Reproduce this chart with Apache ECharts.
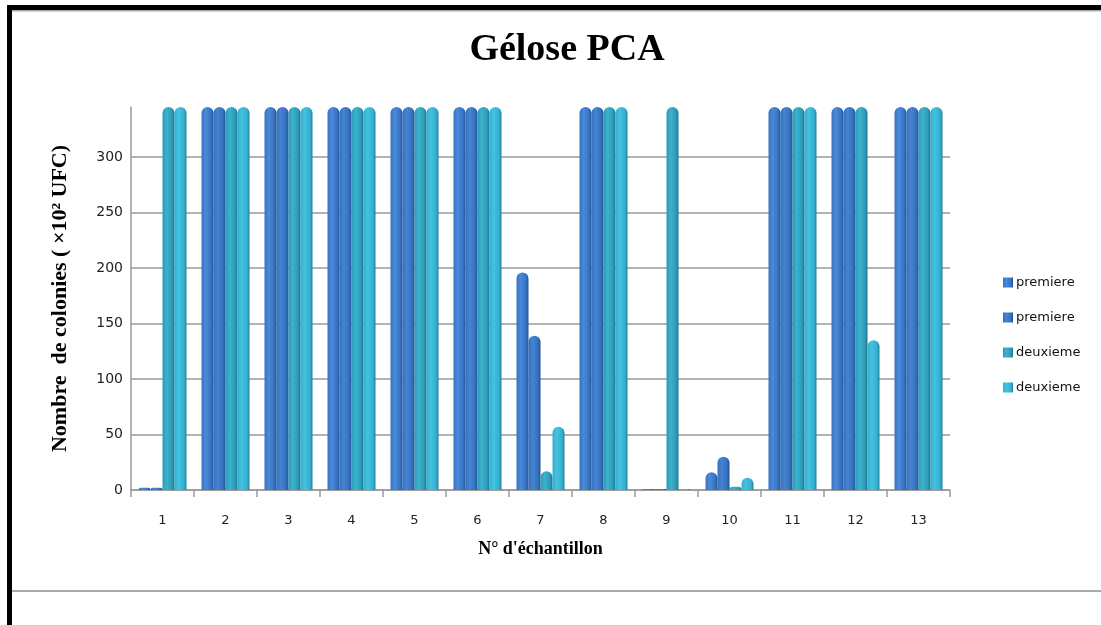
<!DOCTYPE html>
<html>
<head>
<meta charset="utf-8">
<title>Gélose PCA</title>
<script src="https://cdn.jsdelivr.net/npm/echarts@6/dist/echarts.min.js"></script>
<style>
  html, body { margin: 0; padding: 0; background: #fff; }
  #chart { width: 1101px; height: 625px; }
</style>
</head>
<body>
<div id="chart"></div>
<script>
// Sample numbers on the x axis
const categories = ['1', '2', '3', '4', '5', '6', '7', '8', '9', '10', '11', '12', '13'];

// Colony counts (×10² UFC); 345 marks plates that were too numerous to count
const premiereA = [2, 345, 345, 345, 345, 345, 196, 345, 1, 16, 345, 345, 345];
const premiereB = [2, 345, 345, 345, 345, 345, 139, 345, 1, 30, 345, 345, 345];
const deuxiemeA = [345, 345, 345, 345, 345, 345, 17, 345, 345, 3, 345, 345, 345];
const deuxiemeB = [345, 345, 345, 345, 345, 345, 57, 345, 1, 11, 345, 135, 345];

const seriesLabels = ['premiere', 'premiere', 'deuxieme', 'deuxieme'];
const yTicks = [0, 50, 100, 150, 200, 250, 300];

// Legend entries need unique keys even though two pairs share a label
const seriesKeys = seriesLabels.map((n, i) => n + '#' + i);
const labelOf = key => key.split('#')[0];

// Cylinder-like horizontal shading for each bar
function shade(light, mid, dark) {
  return new echarts.graphic.LinearGradient(0, 0, 1, 0, [
    { offset: 0, color: mid },
    { offset: 0.35, color: light },
    { offset: 0.8, color: mid },
    { offset: 1, color: dark }
  ]);
}
const fills = [
  shade('#4a8ad8', '#3672c2', '#24508e'),
  shade('#4684d2', '#3370be', '#234f8c'),
  shade('#3cb2cc', '#2c9ab6', '#1f7389'),
  shade('#45c2e0', '#33afcf', '#237f98')
];

const chart = echarts.init(document.getElementById('chart'), null, { renderer: 'canvas' });

const dataSets = [premiereA, premiereB, deuxiemeA, deuxiemeB];
const series = dataSets.map((d, i) => ({
  name: seriesKeys[i],
  type: 'bar',
  data: d,
  barWidth: 12,
  barGap: '0%',
  itemStyle: { color: fills[i], borderRadius: [6, 6, 0, 0] }
}));

const yMax = 345;
// one grid line per labelled tick; the top edge stays clear
const gridColors = yTicks.map(() => '#9a9a9a').concat(['rgba(0,0,0,0)']);

chart.setOption({
  animation: false,
  backgroundColor: '#ffffff',
  title: {
    text: 'Gélose PCA',
    left: 562,
    top: 26,
    textAlign: 'center',
    textStyle: { fontFamily: 'Liberation Serif', fontWeight: 'bold', fontSize: 38, color: '#000' }
  },
  legend: {
    orient: 'vertical',
    left: 998,
    top: 271,
    itemGap: 22,
    itemWidth: 10,
    itemHeight: 10,
    icon: 'rect',
    data: seriesKeys,
    formatter: labelOf,
    textStyle: { fontFamily: 'DejaVu Sans', fontSize: 13, color: '#111', padding: [0, 0, 0, -2] }
  },
  grid: { left: 131, right: 151, top: 107, bottom: 135, containLabel: false },
  xAxis: {
    type: 'category',
    data: categories,
    name: 'N° d\'échantillon',
    nameLocation: 'middle',
    nameGap: 50,
    nameTextStyle: { fontFamily: 'Liberation Serif', fontWeight: 'bold', fontSize: 18, color: '#000' },
    axisLine: { lineStyle: { color: '#9a9a9a', width: 1.5 } },
    axisTick: { show: true, length: 7, lineStyle: { color: '#9a9a9a', width: 1.5 } },
    axisLabel: { fontFamily: 'DejaVu Sans', fontSize: 13, color: '#222', margin: 24 }
  },
  yAxis: {
    type: 'value',
    min: 0,
    max: yMax,
    interval: 50,
    name: 'Nombre  de colonies ( ×10² UFC)',
    nameLocation: 'middle',
    nameGap: 60,
    nameTextStyle: { fontFamily: 'Liberation Serif', fontWeight: 'bold', fontSize: 22, color: '#000' },
    axisLine: { show: true, lineStyle: { color: '#9a9a9a', width: 1.5 } },
    axisTick: { show: false },
    axisLabel: {
      fontFamily: 'DejaVu Sans', fontSize: 14, color: '#222', margin: 8,
      formatter: v => (yTicks.indexOf(v) >= 0 ? String(v) : '')
    },
    splitLine: { show: true, lineStyle: { color: gridColors, width: 1.5 } }
  },
  graphic: [
    // page frame: heavy rule along the top and left edge, light rule near the bottom
    { type: 'rect', shape: { x: 7, y: 5, width: 1094, height: 5 }, style: { fill: '#000' }, silent: true },
    { type: 'rect', shape: { x: 12, y: 10, width: 1089, height: 1.5 }, style: { fill: '#aaa' }, silent: true },
    { type: 'rect', shape: { x: 7, y: 5, width: 5, height: 620 }, style: { fill: '#000' }, silent: true },
    { type: 'rect', shape: { x: 12, y: 590, width: 1089, height: 2 }, style: { fill: '#aaa' }, silent: true }
  ],
  series: series
});
</script>
</body>
</html>
